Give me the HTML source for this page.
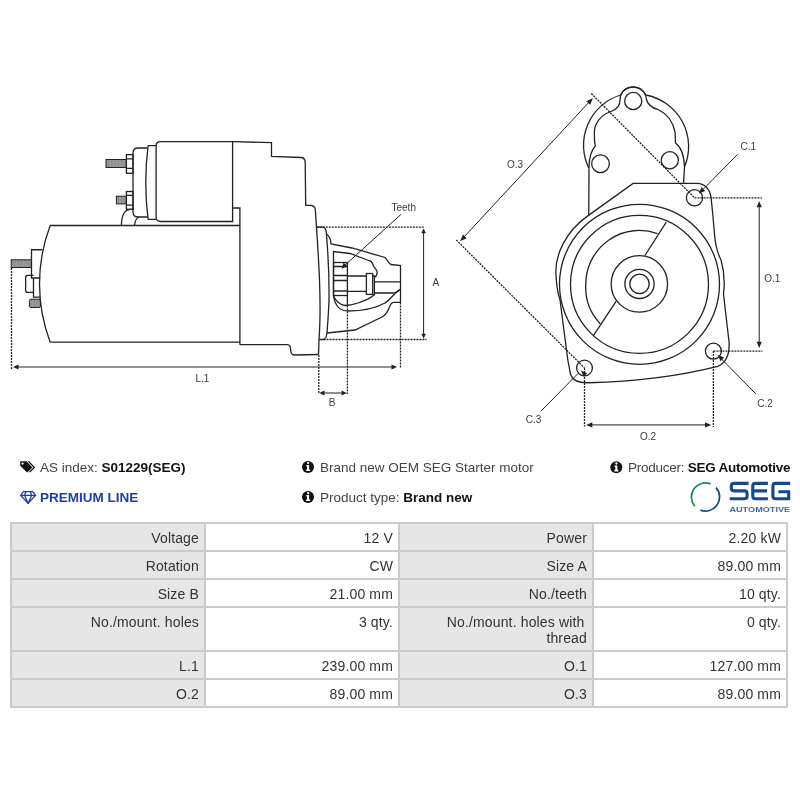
<!DOCTYPE html>
<html><head><meta charset="utf-8">
<style>
html,body{margin:0;padding:0;background:#fff;}
body{width:800px;height:800px;position:relative;overflow:hidden;font-family:"Liberation Sans",sans-serif;color:#333;}
.abs{position:absolute;white-space:nowrap;will-change:transform;}
.t{font-size:13.5px;line-height:16px;color:#444;}
.b{font-weight:bold;color:#111;}
#tbl{will-change:transform;position:absolute;left:10px;top:522px;width:774px;padding:2px;background:#cbcbcb;display:grid;grid-template-columns:192px 192px 192px 192px;grid-template-rows:26px 26px 26px 42px 26px 26px;gap:2px;}
#tbl div{background:#fff;text-align:right;font-size:14px;letter-spacing:0.15px;line-height:16px;color:#333;padding:6px 5px 0 0;box-sizing:border-box;}
#tbl div.l{background:#e6e6e6;}
svg{position:absolute;left:0;top:0;will-change:transform;}
</style></head><body>
<svg id="draw" width="800" height="450" viewBox="0 0 800 450" fill="none" stroke="#222" stroke-width="1.3">
<defs>
<pattern id="th" width="1.45" height="10" patternUnits="userSpaceOnUse"><rect x="0.4" y="0" width="0.7" height="10" fill="#222" stroke="none"/></pattern>
</defs>
<!-- studs on solenoid -->
<rect x="106" y="159.5" width="20.4" height="8" fill="url(#th)" stroke-width="1"/>
<rect x="126.4" y="154.6" width="6.6" height="18.7"/>
<path d="M126.4,158.8H133M126.4,168.3H133"/>
<rect x="116.4" y="196.2" width="10" height="7.7" fill="url(#th)" stroke-width="1"/>
<rect x="126.4" y="191.5" width="6.6" height="17.8"/>
<path d="M126.4,195.4H133M126.4,205.1H133"/>
<!-- end cap -->
<path d="M147.5,148H138Q133,148 133,153V212Q133,217 138,217H147.5"/>
<!-- band -->
<path d="M148.1,145.7H156.1M156.1,219.4H148.1M148.1,145.7Q143.4,182.5 148.1,219.4"/>
<!-- solenoid main -->
<path d="M232.6,141.7H160.5Q156.1,141.7 156.1,146V217Q156.1,221.5 160.5,221.5H232.6Z"/>
<!-- curves under solenoid -->
<path d="M121.4,225.5C121.5,216 124,210 130,209.3H133M134.5,225.5C135,221 136,218 139,217"/>
<!-- motor body -->
<path d="M232.6,208H239.9V344.7M50.2,225.5H239.9M50.2,342.2H239.9M50.2,225.5A164.5,164.5 0 0 0 50.2,342.2"/>
<!-- rear terminal -->
<path d="M42.4,249.75H31.5V278H40.2M40.2,278H33.5V297.2H40.6"/>
<path d="M33.5,275.3H27.8Q25.65,275.3 25.65,277.5V290.2Q25.65,292.4 27.8,292.4H33.5"/>
<rect x="11.2" y="259.8" width="20.3" height="7.7" fill="url(#th)" stroke-width="1"/>
<rect x="29.4" y="299.2" width="11" height="8.3" rx="1.5" fill="url(#th)" stroke-width="1"/>
<!-- housing -->
<path d="M232.6,141.7L271.5,142.65V156.4L301.3,157.5Q305,158 305.2,162L305.7,205.4H311Q315,206 315.3,209.5C318,250 322,300 319,339.5L318.5,354.5"/>
<path d="M239.9,344.7H287.5Q290.6,345 290.6,349.5Q290.8,355 294.5,355L318.5,354.5"/>
<!-- flange -->
<path d="M316.8,227.2H323Q326,228 326.3,232.5C327.8,250 329.2,285 329,300C328.5,315 327.5,325 327,333Q326,339.5 323.5,339.5H319.2"/>
<!-- nose -->
<path d="M326.5,234C329.5,236 330.8,239 331,244L352,248L385,257.5C387.5,260 388.5,263 391,264.5L400.5,265.5V302.4"/>
<path d="M327,333L355,330L382,317C386,315 388,311 389.5,307C390.5,304 391.5,302.5 394,302.4H400.5"/>
<path d="M333.5,296V251.5L350,253.5L370,261C372,261.5 372.5,263 373.5,266C374.5,268 376.5,269 377,272C377.5,274 376.5,276 374.5,277.5"/>
<rect x="333.5" y="262.5" width="13.9" height="33"/>
<path d="M347.4,295.5V305.5M333.5,266.5H347.4M333.5,275.5H347.4M333.5,280.5H347.4M333.5,291H347.4"/>
<path d="M347,276H366.4M347,291.4H366.4"/>
<rect x="366.4" y="273.5" width="6.3" height="20.9"/>
<path d="M372.7,276H374.4V295.5M374.4,281.8H400.5M374.4,293H393C396,293 398,291 400.5,289.3"/>
<path d="M374.4,293.5C374,297 366,300 358,303C352,305 347,305.5 345,305.5C340,305 336,301 333.5,296"/>
<path d="M333.5,296C335,305 340,311 348,311C362,311 375,308.5 385,303C391,299 395,292 400.5,289.3"/>
<!-- dims -->
<g stroke-width="1.3" stroke-dasharray="2 1">
<path d="M316.8,227.2H424M323.5,339.5H426.6M11.5,268V369M400.5,302.4V368.4M318.8,355V394M347.4,305.5V394"/>
</g>
<g stroke-width="1" stroke="#222">
<path d="M423.6,229V338M16,367H394M322,393H344M401,214.4L344,266"/>
</g>
<g fill="#222" stroke="none">
<path d="M423.6,228.4L421.3,233.2L425.9,233.2Z"/>
<path d="M423.6,338.6L421.3,333.8L425.9,333.8Z"/>
<path d="M13,367L18.5,364.5V369.5Z"/>
<path d="M397,367L391.5,364.5V369.5Z"/>
<path d="M319.3,393L324.5,390.6V395.4Z"/>
<path d="M346.8,393L341.6,390.6V395.4Z"/>
<path d="M341.6,268.8L343.5,262.5L347.5,266.5Z"/>
</g>
<g fill="#3a3a3a" stroke="none" font-family="Liberation Sans, sans-serif" font-size="10">
<text x="391.5" y="210.8">Teeth</text>
<text x="432.5" y="285.8">A</text>
<text x="328.8" y="406">B</text>
<text x="195.5" y="381.5">L.1</text>
</g>
<!-- solenoid end outer -->
<path d="M589,168.5A52.5,52.5 0 0 1 620.6,95A14,14 0 0 1 645.8,95A52.5,52.5 0 0 1 684.5,167"/>
<path d="M589,168C589,158 590.5,151 595.3,146C594,140 593.8,128 596,124.5C599.5,117 606,113 612,111C617,109 620,106 620,100C620,92 626,87 633.2,87C640,87 646,92 646.3,99C647.5,105 652,108 659,110C667,114 673,122 675,132C675.6,137 675.2,141 675.5,143C681,147 684,155 684.5,167"/>
<circle cx="633.2" cy="101" r="8.6"/>
<circle cx="600.5" cy="163.7" r="8.85"/>
<circle cx="669.8" cy="160.25" r="8.6"/>
<path d="M589,168.5L588.75,215.6M684.5,167L683.5,183.4"/>
<!-- flange outline -->
<path d="M588.1,215.6L633.1,183.4H697Q708.5,184 711,197L712.8,214.5L714.5,234Q716,251 720.9,259.5A85,85 0 0 1 723.5,294L729.1,342.5Q730,361 717.75,366.4Q660,381 588.5,382.75Q573,383 570.5,374L567.8,360L560,300C558,294 556.5,287 556,275C554.5,255 566,231 588.1,215.6Z"/>
<circle cx="639.5" cy="284.3" r="80"/>
<circle cx="639.5" cy="284.3" r="69"/>
<circle cx="639.35" cy="283.9" r="28.2"/>
<circle cx="639.5" cy="283.9" r="14.6"/>
<circle cx="639.5" cy="283.9" r="9.7"/>
<path d="M657.5,233.6A53.6,53.6 0 0 0 585.8,283.9A53.6,53.6 0 0 0 600.2,323.8"/>
<path d="M644.9,255.5L666.3,222.1M616.2,301.1L593.4,335.6"/>
<!-- mounting holes -->
<circle cx="694.5" cy="197.8" r="8.1"/>
<circle cx="713.4" cy="351.1" r="8"/>
<circle cx="584.5" cy="368" r="7.9"/>
<!-- dotted -->
<g stroke-width="1.3" stroke-dasharray="2 1">
<path d="M591.3,93.5L694.5,197.8M694.5,197.8H762M456.3,240L584.5,368M713.4,351.1H762.5M713.4,351.1V427M584.5,368V426.5"/>
</g>
<g stroke-width="1">
<path d="M462,239.2L591,100M759.2,203V346M589,424.9H708.5M737.5,154.5L701,191.5M756,394L720.5,358M541.2,410.9L578.5,373"/>
</g>
<g fill="#222" stroke="none">
<path d="M593,98L586.3,101.2L590.2,104.8Z"/>
<path d="M460,241.3L463,234.6L466.6,238.2Z"/>
<path d="M759.2,200.9L756.6,207.2H761.8Z"/>
<path d="M759.2,348L756.6,341.7H761.8Z"/>
<path d="M586.1,424.9L592.3,422.3V427.5Z"/>
<path d="M711.2,424.9L705,422.3V427.5Z"/>
<path d="M698.8,193.5L701.5,187.3L705.2,191Z"/>
<path d="M717.8,355L724.2,357.6L720.5,361.2Z"/>
<path d="M580.9,370.6L583.6,376.8L587.2,373.2Z"/>
</g>
<g fill="#3a3a3a" stroke="none" font-family="Liberation Sans, sans-serif" font-size="10">
<text x="507" y="168">O.3</text>
<text x="740.5" y="150.3">C.1</text>
<text x="764.3" y="281.7">O.1</text>
<text x="757.3" y="407">C.2</text>
<text x="525.8" y="422.5">C.3</text>
<text x="640" y="439.7">O.2</text>
</g>
</svg>

<!-- info row -->
<svg width="800" height="70" viewBox="0 450 800 70" style="top:450px">
<g fill="#111">
<path d="M20.2,461.2H26.6L32.3,467.4L27.1,472.6L20.2,465.7Z"/>
<circle cx="22.6" cy="463.6" r="1.1" fill="#fff"/>
<path d="M27.6,461.2H29.3L35.2,467.4L30,472.6L29,471.8L33.4,467.4Z"/>
<circle cx="308" cy="466.9" r="6"/>
<circle cx="308" cy="496.9" r="6"/>
<circle cx="616.3" cy="467.3" r="6"/>
</g>
<g fill="#fff">
<circle cx="308.1" cy="463.1" r="1.15"/>
<path d="M306.3,465.1H309.1V469.4H310.1V471H306.1V469.4H307V466.5H306.3Z"/>
<circle cx="308.1" cy="493.1" r="1.15"/>
<path d="M306.3,495.1H309.1V499.4H310.1V501H306.1V499.4H307V496.5H306.3Z"/>
<circle cx="616.4" cy="463.5" r="1.15"/>
<path d="M614.6,465.5H617.4V469.8H618.4V471.4H614.4V469.8H615.3V466.9H614.6Z"/>
</g>
<g fill="none" stroke="#1d3ea8" stroke-width="1.3" stroke-linejoin="round">
<path d="M23.4,491.6H32.8L35.6,495.3L28.1,503.4L20.6,495.3Z"/>
<path d="M20.6,495.3H35.6M25.8,491.6L24.6,495.3L28.1,503.4L31.6,495.3L30.4,491.6"/>
</g>
<g fill="none" stroke-width="1.75">
<path d="M710.61,483.86A14.1,14.1 0 0 0 694.81,506.2" stroke="#1b8c5c"/>
<path d="M716.06,487.66A14.1,14.1 0 0 1 700.31,510.11" stroke="#104b8c"/>
</g>
<g fill="none" stroke="#15498c" stroke-width="3.1">
<path d="M748.6,483.4H734Q731.3,483.4 731.3,486.2V488.1Q731.3,490.9 734,490.9H744.4Q747.1,490.9 747.1,493.7V496Q747.1,498.8 744.4,498.8H729.8"/>
<path d="M767.9,483.4H755.5Q752.75,483.4 752.75,486.2V496Q752.75,498.8 755.5,498.8H767.9M752.75,490.9H767"/>
<path d="M790.2,483.4H775.6Q772.9,483.4 772.9,486.2V496Q772.9,498.8 775.6,498.8H788.7V490.25M778.4,491.75H790.2"/>
</g>
<text x="729.4" y="511.8" font-family="Liberation Sans, sans-serif" font-size="7.4" font-weight="bold" fill="#3a6aa3" textLength="60.8" lengthAdjust="spacingAndGlyphs">AUTOMOTIVE</text>
</svg>
<div class="abs t" style="left:40px;top:460px;">AS index: <span class="b">S01229(SEG)</span></div>
<div class="abs t" style="left:40px;top:490px;color:#1f3fa6;font-weight:bold;">PREMIUM LINE</div>
<div class="abs t" style="left:320px;top:460px;">Brand new OEM SEG Starter motor</div>
<div class="abs t" style="left:320px;top:490px;">Product type: <span class="b">Brand new</span></div>
<div class="abs t" style="right:10px;top:460px;letter-spacing:-0.25px;">Producer: <span class="b">SEG Automotive</span></div>

<div id="tbl">
<div class="l">Voltage</div><div>12 V</div><div class="l">Power</div><div>2.20 kW</div>
<div class="l">Rotation</div><div>CW</div><div class="l">Size A</div><div>89.00 mm</div>
<div class="l">Size B</div><div>21.00 mm</div><div class="l">No./teeth</div><div>10 qty.</div>
<div class="l">No./mount. holes</div><div>3 qty.</div><div class="l">No./mount. holes with<span style="display:inline-block;width:2.5px"></span><br>thread</div><div>0 qty.</div>
<div class="l">L.1</div><div>239.00 mm</div><div class="l">O.1</div><div>127.00 mm</div>
<div class="l">O.2</div><div>89.00 mm</div><div class="l">O.3</div><div>89.00 mm</div>
</div>
</body></html>
